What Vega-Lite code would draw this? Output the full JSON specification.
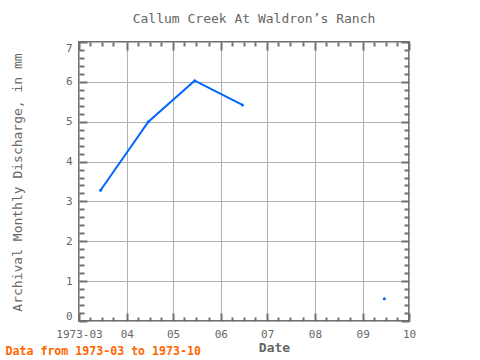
{
  "$schema": "https://vega.github.io/schema/vega-lite/v6.json",
  "width": 330,
  "height": 279,
  "autosize": "none",
  "padding": {"left": 79, "top": 42, "right": 71, "bottom": 39},
  "background": "white",
  "title": {"text": "Callum Creek At Waldron’s Ranch", "anchor": "middle", "frame": "group", "font": "DejaVu Sans Mono", "fontSize": 13, "fontWeight": "normal", "color": "#666666", "dx": 10, "offset": 15},
  "data": {"values": [
    {"date": "1973-03-15", "value": 3.28},
    {"date": "1973-04-15", "value": 5.0},
    {"date": "1973-05-15", "value": 6.03},
    {"date": "1973-06-15", "value": 5.42},
    {"date": "1973-07-15", "value": null},
    {"date": "1973-08-15", "value": null},
    {"date": "1973-09-15", "value": 0.56}
  ]},
  "config": {
    "view": {"stroke": "#707070", "strokeWidth": 2},
    "axis": {"labelFont": "DejaVu Sans Mono", "titleFont": "DejaVu Sans Mono", "labelColor": "#666666", "titleColor": "#666666", "tickColor": "#707070", "tickWidth": 2, "gridColor": "#b0b0b0", "gridWidth": 1, "domain": false, "labelFontSize": 11}
  },
  "layer": [
    {
      "mark": {"type": "line", "color": "#0066ff", "strokeWidth": 2, "invalid": "break-paths-show-domains"},
      "encoding": {
        "x": {"field": "date", "type": "temporal",
          "scale": {"type": "utc", "domain": [{"year": 1973, "month": 3, "date": 1, "utc": true}, {"year": 1973, "month": 10, "date": 1, "utc": true}]},
          "axis": {"orient": "bottom", "values": [
            {"year": 1973, "month": 3, "date": 1, "utc": true},
            {"year": 1973, "month": 4, "date": 1, "utc": true},
            {"year": 1973, "month": 5, "date": 1, "utc": true},
            {"year": 1973, "month": 6, "date": 1, "utc": true},
            {"year": 1973, "month": 7, "date": 1, "utc": true},
            {"year": 1973, "month": 8, "date": 1, "utc": true},
            {"year": 1973, "month": 9, "date": 1, "utc": true},
            {"year": 1973, "month": 10, "date": 1, "utc": true}],
            "labelExpr": "utcFormat(datum.value, '%m') == '03' ? '1973-03' : utcFormat(datum.value, '%m')",
            "grid": true, "tickSize": -8, "labelPadding": 15, "labelFlush": false, "labelOverlap": false, "labelBound": false,
            "title": "Date", "titleFontSize": 13, "titleFontWeight": "bold", "titleX": 195, "titleY": 26, "titleBaseline": "middle", "titleAlign": "center"}},
        "y": {"field": "value", "type": "quantitative",
          "scale": {"domain": [0, 7], "nice": false, "zero": false},
          "axis": {"orient": "left", "values": [0, 1, 2, 3, 4, 5, 6, 7], "grid": true, "tickSize": -8, "labelPadding": 15, "labelFlush": true,
            "title": "Archival Monthly Discharge, in mm", "titleFontSize": 13, "titleFontWeight": "normal", "titleX": -61.5, "titleY": 140, "titleAngle": -90, "titleBaseline": "middle", "titleAlign": "center"}}
      }
    },
    {
      "mark": {"type": "point", "filled": true, "size": 9, "color": "#0066ff", "opacity": 1},
      "encoding": {
        "x": {"field": "date", "type": "temporal",
          "axis": {"orient": "top", "values": [
            {"year": 1973, "month": 3, "date": 1, "utc": true},
            {"year": 1973, "month": 4, "date": 1, "utc": true},
            {"year": 1973, "month": 5, "date": 1, "utc": true},
            {"year": 1973, "month": 6, "date": 1, "utc": true},
            {"year": 1973, "month": 7, "date": 1, "utc": true},
            {"year": 1973, "month": 8, "date": 1, "utc": true},
            {"year": 1973, "month": 9, "date": 1, "utc": true},
            {"year": 1973, "month": 10, "date": 1, "utc": true}],
            "labels": false, "grid": false, "tickSize": -8, "title": null}},
        "y": {"field": "value", "type": "quantitative",
          "axis": {"orient": "right", "values": [0, 1, 2, 3, 4, 5, 6, 7], "labels": false, "grid": false, "tickSize": -8, "title": null}}
      }
    },
    {
      "mark": {"type": "point", "opacity": 0},
      "encoding": {
        "x": {"field": "date", "type": "temporal",
          "axis": {"orient": "bottom", "values": [
            {"year": 1973, "month": 3, "date": 8, "utc": true},
            {"year": 1973, "month": 3, "date": 16, "utc": true},
            {"year": 1973, "month": 3, "date": 23, "utc": true},
            {"year": 1973, "month": 4, "date": 8, "utc": true},
            {"year": 1973, "month": 4, "date": 16, "utc": true},
            {"year": 1973, "month": 4, "date": 23, "utc": true},
            {"year": 1973, "month": 5, "date": 8, "utc": true},
            {"year": 1973, "month": 5, "date": 16, "utc": true},
            {"year": 1973, "month": 5, "date": 24, "utc": true},
            {"year": 1973, "month": 6, "date": 8, "utc": true},
            {"year": 1973, "month": 6, "date": 16, "utc": true},
            {"year": 1973, "month": 6, "date": 23, "utc": true},
            {"year": 1973, "month": 7, "date": 8, "utc": true},
            {"year": 1973, "month": 7, "date": 16, "utc": true},
            {"year": 1973, "month": 7, "date": 24, "utc": true},
            {"year": 1973, "month": 8, "date": 8, "utc": true},
            {"year": 1973, "month": 8, "date": 16, "utc": true},
            {"year": 1973, "month": 8, "date": 24, "utc": true},
            {"year": 1973, "month": 9, "date": 8, "utc": true},
            {"year": 1973, "month": 9, "date": 16, "utc": true},
            {"year": 1973, "month": 9, "date": 23, "utc": true}],
            "labels": false, "grid": false, "tickSize": -4,
            "title": "Data from 1973-03 to 1973-10", "titleColor": "#ff6600", "titleFontSize": 11.6, "titleFontWeight": "bold", "titleX": -74, "titleY": 30, "titleAlign": "left", "titleBaseline": "middle"}},
        "y": {"field": "value", "type": "quantitative",
          "axis": {"orient": "left", "values": [0.2, 0.4, 0.6, 0.8, 1.2, 1.4, 1.6, 1.8, 2.2, 2.4, 2.6, 2.8, 3.2, 3.4, 3.6, 3.8, 4.2, 4.4, 4.6, 4.8, 5.2, 5.4, 5.6, 5.8, 6.2, 6.4, 6.6, 6.8], "labels": false, "grid": false, "tickSize": -5, "title": null}}
      }
    },
    {
      "mark": {"type": "point", "opacity": 0},
      "encoding": {
        "x": {"field": "date", "type": "temporal",
          "axis": {"orient": "top", "values": [
            {"year": 1973, "month": 3, "date": 8, "utc": true},
            {"year": 1973, "month": 3, "date": 16, "utc": true},
            {"year": 1973, "month": 3, "date": 23, "utc": true},
            {"year": 1973, "month": 4, "date": 8, "utc": true},
            {"year": 1973, "month": 4, "date": 16, "utc": true},
            {"year": 1973, "month": 4, "date": 23, "utc": true},
            {"year": 1973, "month": 5, "date": 8, "utc": true},
            {"year": 1973, "month": 5, "date": 16, "utc": true},
            {"year": 1973, "month": 5, "date": 24, "utc": true},
            {"year": 1973, "month": 6, "date": 8, "utc": true},
            {"year": 1973, "month": 6, "date": 16, "utc": true},
            {"year": 1973, "month": 6, "date": 23, "utc": true},
            {"year": 1973, "month": 7, "date": 8, "utc": true},
            {"year": 1973, "month": 7, "date": 16, "utc": true},
            {"year": 1973, "month": 7, "date": 24, "utc": true},
            {"year": 1973, "month": 8, "date": 8, "utc": true},
            {"year": 1973, "month": 8, "date": 16, "utc": true},
            {"year": 1973, "month": 8, "date": 24, "utc": true},
            {"year": 1973, "month": 9, "date": 8, "utc": true},
            {"year": 1973, "month": 9, "date": 16, "utc": true},
            {"year": 1973, "month": 9, "date": 23, "utc": true}],
            "labels": false, "grid": false, "tickSize": -4, "title": null}},
        "y": {"field": "value", "type": "quantitative",
          "axis": {"orient": "right", "values": [0.2, 0.4, 0.6, 0.8, 1.2, 1.4, 1.6, 1.8, 2.2, 2.4, 2.6, 2.8, 3.2, 3.4, 3.6, 3.8, 4.2, 4.4, 4.6, 4.8, 5.2, 5.4, 5.6, 5.8, 6.2, 6.4, 6.6, 6.8], "labels": false, "grid": false, "tickSize": -5, "title": null}}
      }
    }
  ],
  "resolve": {"axis": {"x": "independent", "y": "independent"}}
}
